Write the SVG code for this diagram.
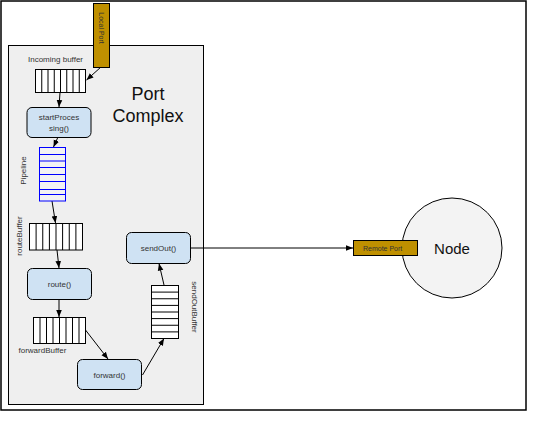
<svg xmlns="http://www.w3.org/2000/svg" width="536" height="423" viewBox="0 0 536 423">
<style>
text{font-family:"Liberation Sans",Arial,sans-serif;fill:#333}
.big{fill:#111}
.lbl{font-size:8px}
.port{fill:#bf9000;stroke:#000;stroke-width:1}
.proc{fill:#cfe2f3;stroke:#000;stroke-width:1}
.buf{fill:#fff;stroke:#000;stroke-width:1}
.pipe{fill:#f3f3f3;stroke:#0000ff;stroke-width:1}
.cell{stroke:#000;stroke-width:1}
.pcell{stroke:#0000ff;stroke-width:1}
.conn{stroke:#000;stroke-width:1;fill:none;marker-end:url(#ah)}
</style>
<defs>
<marker id="ah" viewBox="0 0 10 10" refX="10" refY="5" markerWidth="7" markerHeight="7" markerUnits="userSpaceOnUse" orient="auto">
<path d="M0,1 L10,5 L0,9 z" fill="#000"/>
</marker>
</defs>
<rect width="536" height="423" fill="#fff"/>
<rect id="frame" x="1" y="1" width="525" height="409" fill="#fff" stroke="#000" stroke-width="1.5"/>
<g id="port-complex">
<rect x="8.5" y="45.5" width="195" height="359" fill="#efefef" stroke="#000" stroke-width="1"/>
<text class="big" x="148" y="100" font-size="18" text-anchor="middle">Port</text>
<text class="big" x="148" y="122" font-size="18" text-anchor="middle">Complex</text>
</g>
<g id="connectors">
<path class="conn" d="M101,67 L86.5,80"/>
<path class="conn" d="M60,92.5 L59,107"/>
<path class="conn" d="M58,137 L53.5,147"/>
<path class="conn" d="M52,201 L55.5,223"/>
<path class="conn" d="M57,250 L59,268"/>
<path class="conn" d="M59,299 L59,317"/>
<path class="conn" d="M85.5,330 L108,359"/>
<path class="conn" d="M142.5,375 L164,338.5"/>
<path class="conn" d="M164,285 L159,263.5"/>
<path class="conn" d="M191,248 L353,248"/>
</g>
<g id="local-port">
<rect class="port" x="93.5" y="3.5" width="16" height="64"/>
<text transform="translate(98.5,28) rotate(90)" font-size="7" text-anchor="middle">Local Port</text>
</g>
<g id="incoming-buffer">
<text class="lbl" x="28" y="62">Incoming buffer</text>
<rect class="buf" x="35.5" y="69.5" width="50" height="23"/>
<path class="cell" d="M41.75,69.5V92.5M48,69.5V92.5M54.25,69.5V92.5M60.5,69.5V92.5M66.75,69.5V92.5M73,69.5V92.5M79.25,69.5V92.5"/>
</g>
<g id="start-processing">
<rect class="proc" x="27" y="107.5" width="64" height="30" rx="5"/>
<text class="lbl" x="59" y="120" text-anchor="middle">startProces</text>
<text class="lbl" x="59" y="131" text-anchor="middle">sing()</text>
</g>
<g id="pipeline">
<text class="lbl" transform="translate(26,170.5) rotate(-90)" text-anchor="middle">Pipeline</text>
<rect class="pipe" x="39.5" y="147.5" width="26" height="53.5"/>
<path class="pcell" d="M39.5,154.5H65.5M39.5,161H65.5M39.5,167.5H65.5M39.5,174.5H65.5M39.5,181.5H65.5M39.5,189.5H65.5M39.5,194.5H65.5"/>
</g>
<g id="route-buffer">
<text class="lbl" transform="translate(22,236) rotate(-90)" text-anchor="middle">routeBuffer</text>
<rect class="buf" x="29.5" y="223.5" width="53" height="26.5"/>
<path class="cell" d="M36.1,223.5V250M42.75,223.5V250M49.4,223.5V250M56,223.5V250M62.6,223.5V250M69.25,223.5V250M75.9,223.5V250"/>
</g>
<g id="route">
<rect class="proc" x="27.5" y="268.5" width="64" height="31" rx="5"/>
<text class="lbl" x="59.5" y="287" text-anchor="middle">route()</text>
</g>
<g id="forward-buffer">
<rect class="buf" x="33.5" y="317.5" width="52" height="26"/>
<path class="cell" d="M40,317.5V343.5M46.5,317.5V343.5M53,317.5V343.5M59.5,317.5V343.5M66,317.5V343.5M72.5,317.5V343.5M79,317.5V343.5"/>
<text class="lbl" x="18.5" y="353">forwardBuffer</text>
</g>
<g id="forward">
<rect class="proc" x="77.5" y="359.5" width="64" height="30" rx="5"/>
<text class="lbl" x="109.5" y="378" text-anchor="middle">forward()</text>
</g>
<g id="send-out-buffer">
<rect class="buf" x="151.5" y="285.5" width="27" height="53"/>
<path class="cell" d="M151.5,292.1H178.5M151.5,298.75H178.5M151.5,305.4H178.5M151.5,312H178.5M151.5,318.6H178.5M151.5,325.25H178.5M151.5,331.9H178.5"/>
<text class="lbl" transform="translate(191.5,307) rotate(90)" text-anchor="middle">sendOutBuffer</text>
</g>
<g id="send-out">
<rect class="proc" x="126.5" y="232.5" width="64" height="31" rx="5"/>
<text class="lbl" x="158.5" y="251" text-anchor="middle">sendOut()</text>
</g>
<g id="node">
<circle cx="452" cy="248" r="50" fill="#f3f3f3" stroke="#000" stroke-width="1"/>
<text class="big" x="452" y="254" font-size="15" text-anchor="middle">Node</text>
</g>
<g id="remote-port">
<rect class="port" x="353.5" y="240.5" width="64" height="15"/>
<text x="363" y="251" font-size="7">Remote Port</text>
</g>
</svg>
